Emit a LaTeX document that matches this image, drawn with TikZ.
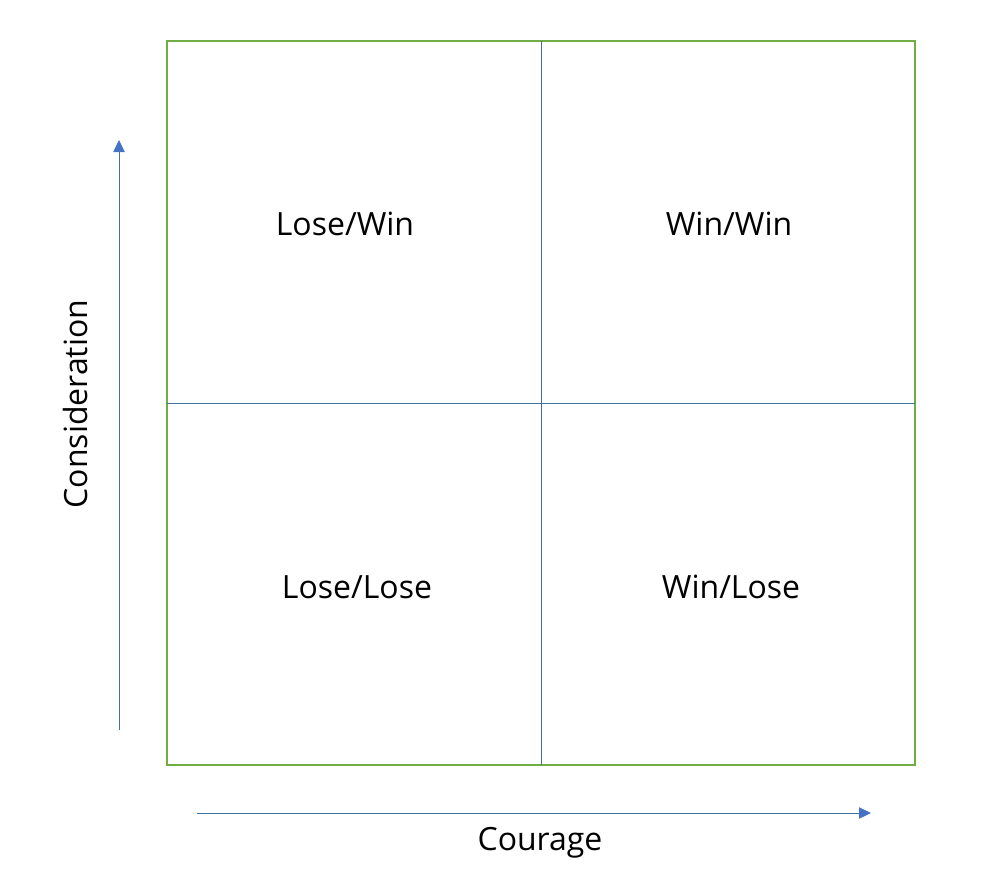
\documentclass[tikz,border=0pt]{standalone}
\usepackage{fontspec}
\setmainfont{Open Sans}
\usepackage{xcolor}
\usetikzlibrary{arrows.meta,positioning,calc}
\definecolor{gridgreen}{HTML}{70AD47}
\definecolor{gridblue}{HTML}{41719C}
\definecolor{tipblue}{HTML}{4472C4}
\tikzset{
  frame/.style={draw=gridgreen, line width=1.6pt},
  divider/.style={draw=gridblue, line width=0.6pt},
  axisarrow/.style={draw=gridblue, line width=0.6pt,
                    -{Triangle[length=9pt, width=8.5pt, fill=tipblue, color=tipblue]}},
  quadlabel/.style={font=\fontsize{24}{29}\selectfont, inner sep=0pt},
  axislabel/.style={font=\fontsize{24}{29}\selectfont, inner sep=0pt},
}

\begin{document}
\begin{tikzpicture}[x=0.75pt, y=-0.75pt]
  \useasboundingbox (0,0) rectangle (992,879);
  % matrix
  \draw[frame] (167,41) rectangle (915,765);
  \draw[divider] (541,41) -- (541,765);
  \draw[divider] (167,403) -- (915,403);
  % quadrants
  \node[quadlabel] (lw) at (345,224) {Lose/Win};
  \node[quadlabel] (ww) at (729,224) {Win/Win};
  \node[quadlabel] (ll) at (357,587) {Lose/Lose};
  \node[quadlabel] (wl) at (731,587) {Win/Lose};
  % axes
  \coordinate (ybot) at (119,730);
  \coordinate (ytop) at (119,140);
  \coordinate (xleft) at (197,813);
  \coordinate (xright) at (871,813);
  \draw[axisarrow] (ybot) -- (ytop);
  \draw[axisarrow] (xleft) -- (xright);
  \node[axislabel, rotate=90] (cons) at (75,404) {Consideration};
  \node[axislabel] (cour) at (540,843) {Courage};
\end{tikzpicture}
\end{document}
